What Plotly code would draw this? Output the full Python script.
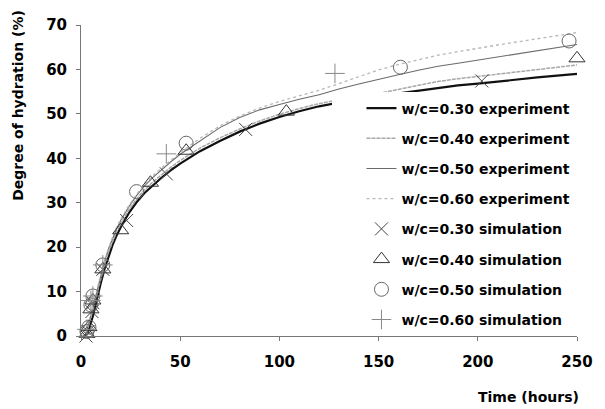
import plotly.graph_objects as go

# Experiment curves (time in hours, degree of hydration in %)
t_exp = [0, 2, 3, 4, 6, 8, 10, 12, 14, 16, 18, 20, 24, 28, 32, 36, 40, 45, 50, 60, 70, 80,
         90, 100, 110, 120, 130, 140, 150, 160, 170, 180, 190, 200, 210, 220, 230, 240, 250]
exp_030 = [0, 0, 0.5, 1.5, 4.5, 8.5, 12, 15.3, 18.2, 20.6, 22.7, 24.5, 27.6, 30.1, 32.2, 33.9, 35.4,
           37.2, 38.8, 41.6, 43.9, 46.0, 47.8, 49.3, 50.6, 51.7, 52.6, 53.4, 54.0, 54.6, 55.2, 55.8,
           56.4, 56.8, 57.3, 57.8, 58.2, 58.6, 59.0]
exp_040 = [0, 0.2, 1.0, 2.5, 6.0, 9.5, 13.0, 16.3, 19.1, 21.5, 23.5, 25.3, 28.3, 30.8, 32.9, 34.6,
           36.1, 37.9, 39.5, 42.3, 44.6, 46.6, 48.4, 49.9, 51.2, 52.3, 53.2, 53.9, 54.6, 55.5, 56.4,
           57.3, 57.9, 58.4, 58.9, 59.4, 59.9, 60.5, 61.0]
exp_050 = [0, 0.3, 1.2, 3.0, 6.8, 10.3, 13.8, 17.0, 19.8, 22.2, 24.2, 26.0, 29.0, 31.6, 33.8, 35.6,
           37.2, 39.1, 40.9, 44.0, 46.9, 49.2, 50.9, 52.1, 53.3, 54.3, 55.6, 56.7, 57.8, 58.8, 59.8,
           60.7, 61.4, 62.1, 62.8, 63.5, 64.2, 64.9, 65.6]
exp_060 = [0, 0.3, 1.3, 3.2, 7.0, 10.6, 14.0, 17.2, 20.0, 22.4, 24.5, 26.3, 29.3, 31.9, 34.1, 36.0,
           37.6, 39.5, 41.3, 44.5, 47.3, 49.5, 51.3, 52.8, 54.1, 55.3, 56.8, 58.4, 59.9, 61.1, 62.2,
           63.2, 64.0, 64.8, 65.5, 66.2, 66.9, 67.6, 68.3]

# Simulation points
t_sim_030 = [2.5, 3.5, 5.5, 6, 11, 23, 43, 83, 202]
v_sim_030 = [0, 1, 5.5, 7.5, 15, 26, 36.5, 46.5, 57.4]
t_sim_040 = [3, 4, 5, 6, 11, 20, 35, 53, 103.5, 250]
v_sim_040 = [0.5, 2, 6, 8, 15, 23.8, 34.5, 41.7, 50.5, 62.5]
t_sim_050 = [3, 4, 5, 6, 11, 28, 53, 161, 246]
v_sim_050 = [1, 2, 7, 9, 16, 32.5, 43.4, 60.5, 66.4]
t_sim_060 = [3, 5, 6, 11, 43, 128, 246]
v_sim_060 = [1.5, 8, 9, 16, 41, 59.1, 70.2]

x_ticks = [0, 50, 100, 150, 200, 250]
y_ticks = [0, 10, 20, 30, 40, 50, 60, 70]

FONT = "DejaVu Sans"

fig = go.Figure()

fig.add_trace(go.Scatter(x=t_exp, y=exp_030, mode="lines", name="w/c=0.30 experiment",
                         line=dict(color="#111111", width=2.2), legendgroup="a"))
fig.add_trace(go.Scatter(x=t_exp, y=exp_040, mode="lines", name="w/c=0.40 experiment",
                         line=dict(color="#a8a8a8", width=1.5, dash="4px,1px"), legendgroup="b"))
fig.add_trace(go.Scatter(x=t_exp, y=exp_050, mode="lines", name="w/c=0.50 experiment",
                         line=dict(color="#6a6a6a", width=1.1), legendgroup="c"))
fig.add_trace(go.Scatter(x=t_exp, y=exp_060, mode="lines", name="w/c=0.60 experiment",
                         line=dict(color="#b8b8b8", width=1.3, dash="dot"), legendgroup="d"))

fig.add_trace(go.Scatter(x=t_sim_030, y=v_sim_030, mode="markers", name="w/c=0.30 simulation",
                         marker=dict(symbol="x-thin-open", size=13, color="#444444",
                                     line=dict(color="#444444", width=1)),
                         cliponaxis=False, legendgroup="e"))
fig.add_trace(go.Scatter(x=t_sim_040, y=v_sim_040, mode="markers", name="w/c=0.40 simulation",
                         marker=dict(symbol="triangle-up-open", size=14, color="#333333",
                                     line=dict(color="#333333", width=1)),
                         cliponaxis=False, legendgroup="f"))
fig.add_trace(go.Scatter(x=t_sim_050, y=v_sim_050, mode="markers", name="w/c=0.50 simulation",
                         marker=dict(symbol="circle-open", size=14, color="#666666",
                                     line=dict(color="#666666", width=1)),
                         cliponaxis=False, legendgroup="g"))
fig.add_trace(go.Scatter(x=t_sim_060, y=v_sim_060, mode="markers", name="w/c=0.60 simulation",
                         marker=dict(symbol="cross-thin-open", size=14, color="#888888",
                                     line=dict(color="#888888", width=1)),
                         cliponaxis=False, legendgroup="h"))

fig.update_layout(
    width=605, height=409,
    margin=dict(l=81, r=19, t=25, b=73),
    paper_bgcolor="white", plot_bgcolor="white",
    font=dict(family=FONT, size=15, color="black"),
    showlegend=True,
    legend=dict(x=0.507, y=0.783, xanchor="left", yanchor="top",
                bgcolor="white", borderwidth=0, traceorder="grouped",
                tracegroupgap=9, indentation=29,
                font=dict(family=FONT, size=14, color="black", weight="bold")),
    xaxis=dict(range=[0, 250], tickvals=x_ticks, ticks="outside", ticklen=4,
               tickcolor="#777777", showline=True, linecolor="#777777", linewidth=1,
               showgrid=False, zeroline=False, ticklabelstandoff=8,
               tickfont=dict(family=FONT, size=15, weight="bold")),
    yaxis=dict(range=[0, 70], tickvals=y_ticks, ticks="outside", ticklen=4,
               tickcolor="#777777", showline=True, linecolor="#777777", linewidth=1,
               showgrid=False, zeroline=False, ticklabelstandoff=6,
               tickfont=dict(family=FONT, size=15, weight="bold")),
    annotations=[
        dict(text="Time (hours)", xref="paper", yref="paper", x=1, y=0,
             xanchor="right", yanchor="middle", xshift=4, yshift=-61, showarrow=False,
             font=dict(family=FONT, size=14, weight="bold")),
        dict(text="Degree of hydration (%)", xref="paper", yref="paper", x=0, y=0.74,
             xanchor="center", yanchor="middle", xshift=-63, textangle=-90, showarrow=False,
             font=dict(family=FONT, size=14, weight="bold")),
    ],
)

fig.write_html("out.html")
